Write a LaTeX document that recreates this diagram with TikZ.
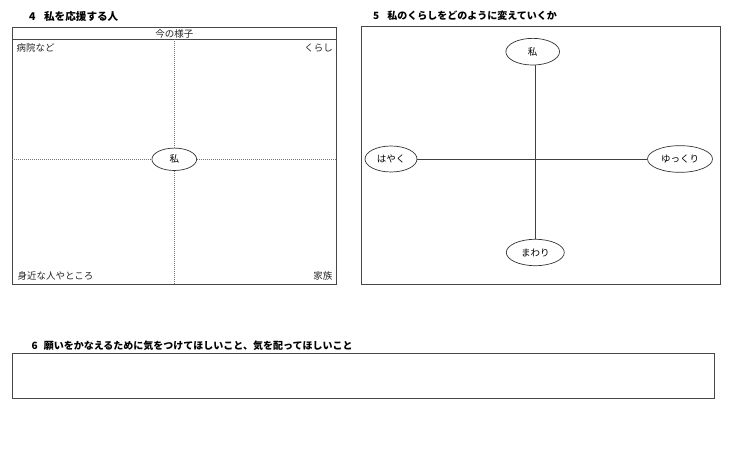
\documentclass[tikz,border=0pt]{standalone}
\usepackage{fontspec}
\setmainfont{Noto Sans CJK JP}
\usetikzlibrary{shapes.geometric}
\tikzset{
  boxline/.style={draw=black!72, line width=0.8pt},
  dotline/.style={draw=black!55, line width=0.6pt, dash pattern=on 1pt off 1pt},
  axisline/.style={draw=black!75, line width=0.7pt},
  oval/.style={ellipse, draw=black!80, line width=0.7pt, inner sep=0pt, fill=white, font=\fontsize{9.5}{11}\selectfont},
  lbl/.style={inner sep=0pt, font=\fontsize{9.5}{11}\selectfont, text=black!85},
  ttl/.style={inner sep=0pt, anchor=west, font=\bfseries\fontsize{10}{12}\selectfont},
}
\begin{document}
\begin{tikzpicture}[x=1pt,y=-1pt]
\useasboundingbox (0,0) rectangle (737,470);

% ---- section 4 ----
\node[ttl, font=\bfseries\fontsize{10.6}{13}\selectfont] (t4) at (29,16) {4\hspace{0.8em}私を応援する人};
\draw[boxline] (12.3,27.3) rectangle (336.7,284);
\coordinate (h4l) at (12.3,39.5);
\coordinate (h4r) at (336.7,39.5);
\draw[boxline] (h4l) -- (h4r);
\node[lbl] (now) at (174.3,33.4) {今の様子};
\node[lbl, anchor=west] (hosp) at (16.5,48.3) {病院など};
\node[lbl, anchor=east] (life) at (333,48.3) {くらし};
\node[lbl, anchor=west] (near) at (17.3,275.5) {身近な人やところ};
\node[lbl, anchor=east] (fam) at (332.5,275.5) {家族};
\node[oval, minimum width=44.7pt, minimum height=22.4pt] (me4) at (174.3,159.3) {私};
\coordinate (v4t) at (174.3,39.5);
\coordinate (v4b) at (174.3,284);
\coordinate (h4w) at (12.3,159.3);
\coordinate (h4e) at (336.7,159.3);
\draw[dotline] (v4t) -- (me4.north);
\draw[dotline] (me4.south) -- (v4b);
\draw[dotline] (h4w) -- (me4.west);
\draw[dotline] (me4.east) -- (h4e);

% ---- section 5 ----
\node[ttl] (t5) at (373,16) {5\hspace{0.8em}私のくらしをどのように変えていくか};
\draw[boxline] (361,26.7) rectangle (720,284);
\node[oval, minimum width=53.7pt, minimum height=26.7pt] (me5) at (532.7,51.7) {私};
\node[oval, minimum width=52pt, minimum height=26pt] (fast) at (391,159) {はやく};
\node[oval, minimum width=65pt, minimum height=26.7pt] (slow) at (680,159) {ゆっくり};
\node[oval, minimum width=58pt, minimum height=26.4pt] (around) at (535.3,252.5) {まわり};
\draw[axisline] (me5.south -| around.north) -- (around.north);
\draw[axisline] (fast.east) -- (slow.west);

% ---- section 6 ----
\node[ttl] (t6) at (31.5,346) {6\hspace{0.6em}願いをかなえるために気をつけてほしいこと、気を配ってほしいこと};
\draw[boxline] (12,353.7) rectangle (714.3,398.3);
\end{tikzpicture}
\end{document}
